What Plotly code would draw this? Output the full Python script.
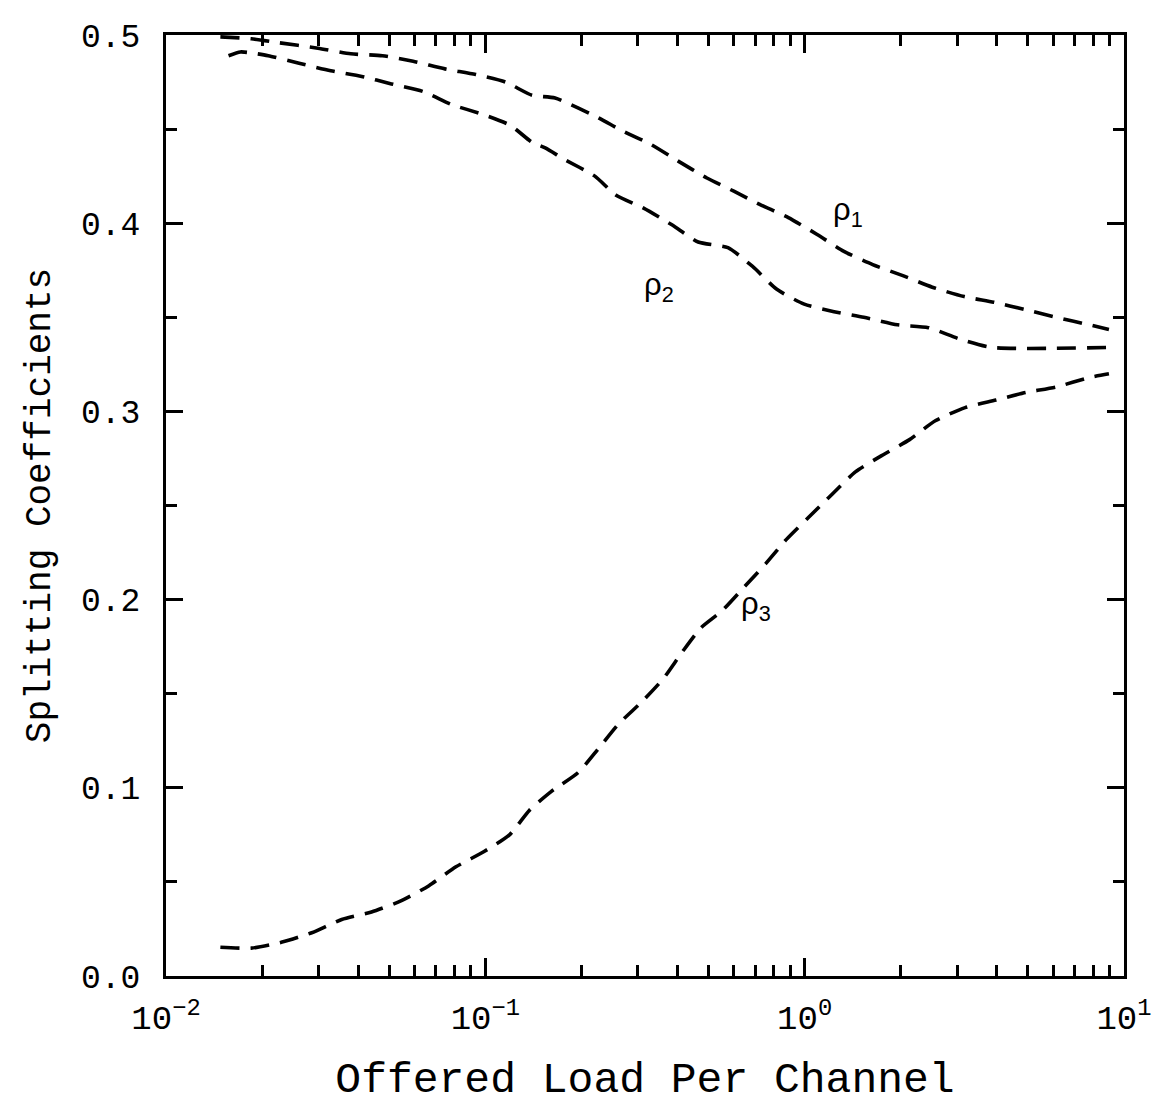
import math
import plotly.graph_objects as go

# ---- data ----
rho1_x = [0.0148, 0.0185, 0.0223, 0.0299, 0.0379, 0.0476, 0.0594, 0.0747, 0.0933,
          0.1156, 0.140, 0.1654, 0.2203, 0.269, 0.3289, 0.4018, 0.494, 0.600, 0.723,
          0.889, 1.094, 1.327, 1.633, 2.04, 2.51, 3.16, 3.91, 4.92, 6.14, 7.78, 8.97]
rho1_y = [0.499, 0.498, 0.496, 0.493, 0.490, 0.489, 0.486, 0.482, 0.479,
          0.475, 0.468, 0.4665, 0.457, 0.449, 0.442, 0.433, 0.424, 0.417, 0.410,
          0.403, 0.394, 0.385, 0.378, 0.372, 0.366, 0.361, 0.358, 0.354, 0.350, 0.346, 0.3435]

rho2_x = [0.0157, 0.0171, 0.0185, 0.0209, 0.0261, 0.0328, 0.0410, 0.0508, 0.0638,
          0.0786, 0.0974, 0.1198, 0.140, 0.154, 0.1764, 0.2203, 0.256, 0.313, 0.385,
          0.464, 0.575, 0.687, 0.816, 0.997, 1.236, 1.531, 1.954, 2.44, 3.05, 3.85, 8.97]
rho2_y = [0.489, 0.491, 0.4905, 0.489, 0.485, 0.481, 0.478, 0.474, 0.470,
          0.463, 0.458, 0.452, 0.443, 0.440, 0.434, 0.425, 0.415, 0.408, 0.399,
          0.390, 0.387, 0.377, 0.365, 0.357, 0.353, 0.350, 0.346, 0.3445, 0.3385, 0.334, 0.334]

rho3_x = [0.0148, 0.0185, 0.0231, 0.0286, 0.0355, 0.0440, 0.0546, 0.0666, 0.0809,
          0.0988, 0.119, 0.1373, 0.1607, 0.195, 0.2265, 0.2616, 0.3105, 0.3609, 0.413,
          0.4733, 0.5506, 0.649, 0.7543, 0.877, 1.033, 1.219, 1.445, 1.742, 2.13,
          2.565, 3.18, 3.97, 4.92, 6.14, 7.78, 8.97]
rho3_y = [0.0153, 0.0148, 0.018, 0.023, 0.030, 0.034, 0.040, 0.048, 0.058,
          0.066, 0.075, 0.088, 0.098, 0.108, 0.121, 0.134, 0.146, 0.158, 0.172,
          0.185, 0.194, 0.207, 0.219, 0.232, 0.244, 0.256, 0.268, 0.2765, 0.285,
          0.295, 0.302, 0.306, 0.310, 0.313, 0.318, 0.320]

x_tickvals = [0.01, 0.1, 1, 10]
x_ticktext = ["10<sup>−2</sup>", "10<sup>−1</sup>", "10<sup>0</sup>", "10<sup>1</sup>"]
y_tickvals = [0.0, 0.1, 0.2, 0.3, 0.4, 0.5]
y_ticktext = ["0.0", "0.1", "0.2", "0.3", "0.4", "0.5"]

labels = ["ρ<sub>1</sub>", "ρ<sub>2</sub>", "ρ<sub>3</sub>"]
label_x = [1.21, 0.310, 0.622]      # data units (load)
label_y = [0.406, 0.366, 0.1966]

x_title = "Offered Load Per Channel"
y_title = "Splitting Coefficients"

MONO = "Liberation Mono"
line_style = dict(color="black", width=3.6, dash="19px,11px")

fig = go.Figure()
for xs, ys, name in [(rho1_x, rho1_y, "ρ1"), (rho2_x, rho2_y, "ρ2"), (rho3_x, rho3_y, "ρ3")]:
    fig.add_trace(go.Scatter(x=xs, y=ys, mode="lines",
                             line=dict(**line_style, shape="spline", smoothing=0.6),
                             name=name, showlegend=False))

for t, lx, ly in zip(labels, label_x, label_y):
    fig.add_annotation(x=math.log10(lx), y=ly, xref="x", yref="y", text=t, showarrow=False,
                       xanchor="left", yanchor="middle",
                       font=dict(family="Liberation Sans", size=31, color="black"))

# page body has ~8px default margin; compensate so the plot frame sits where the reference has it
fig.update_layout(
    width=1156, height=1098,
    margin=dict(l=158, r=29, t=25, b=128),
    paper_bgcolor="white", plot_bgcolor="white",
    font=dict(family=MONO, color="black"),
)

fig.update_xaxes(
    type="log", range=[-2, 1],
    tickvals=x_tickvals, ticktext=x_ticktext,
    tickfont=dict(family=MONO, size=34, color="black"),
    ticks="inside", ticklen=18, tickwidth=2.5, tickcolor="black",
    minor=dict(ticks="inside", ticklen=11, tickwidth=2.5, tickcolor="black", dtick="D1", showgrid=False),
    showline=True, linewidth=3, linecolor="black", mirror="ticks",
    showgrid=False, zeroline=False,
    ticklabelstandoff=9, ticklabeloverflow="allow",
    title=dict(text=x_title, font=dict(family=MONO, size=43, color="black"), standoff=25),
)
fig.update_yaxes(
    range=[0, 0.5],
    tickvals=y_tickvals, ticktext=y_ticktext,
    tickfont=dict(family=MONO, size=33, color="black"),
    ticks="inside", ticklen=17, tickwidth=2.5, tickcolor="black",
    minor=dict(ticks="inside", ticklen=11, tickwidth=2.5, tickcolor="black", dtick=0.05, showgrid=False),
    showline=True, linewidth=3, linecolor="black", mirror="ticks",
    showgrid=False, zeroline=False,
    ticklabelstandoff=16,
    title=dict(text=y_title, font=dict(family=MONO, size=36, color="black"), standoff=20),
)

fig.write_html("out.html")
